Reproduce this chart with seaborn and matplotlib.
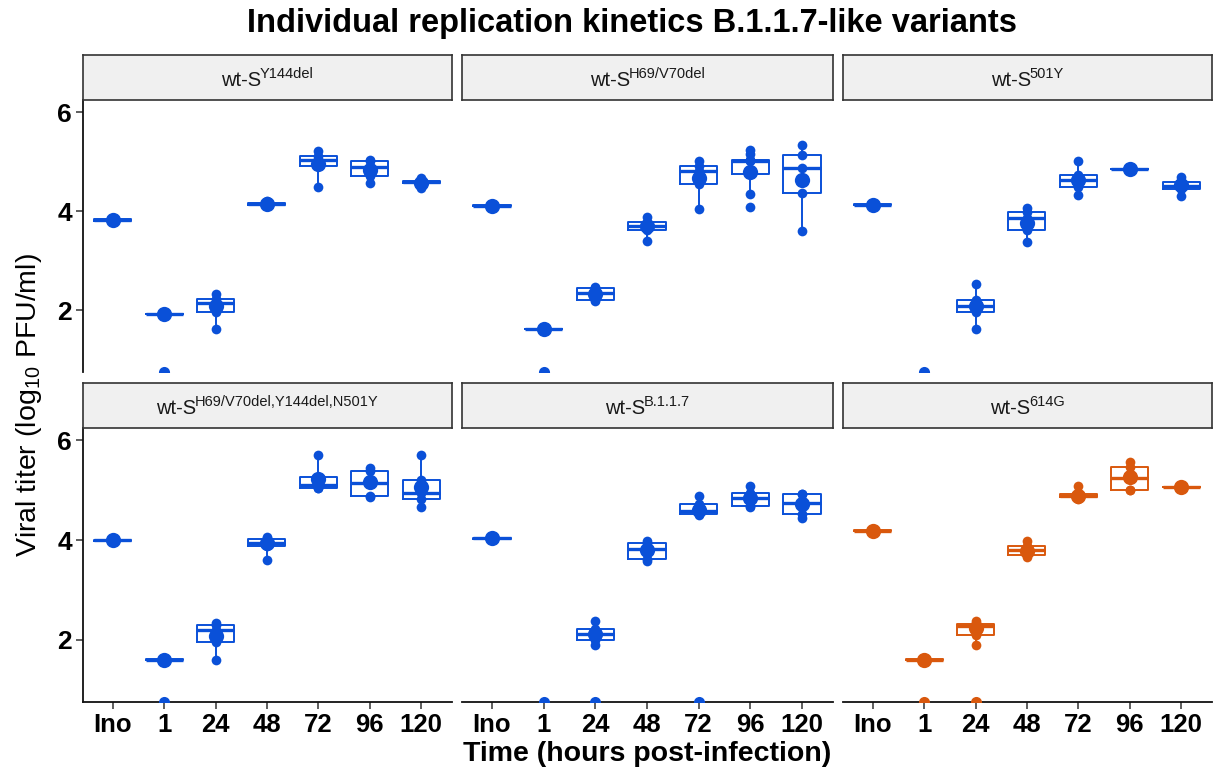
import numpy as np
import pandas as pd
import matplotlib
matplotlib.use("Agg")
import matplotlib.pyplot as plt
import seaborn as sns

TIMES = ["Ino", "1", "24", "48", "72", "96", "120"]
LOD_VALUE = 0.74

# --- wt-S Y144del
Y144DEL_REPS = [[3.79, 3.81, 3.83, 3.85, 3.87], [1.91, 1.92, 1.92, 1.92, 1.93],
                [1.61, 1.96, 2.15, 2.23, 2.32], [4.10, 4.13, 4.15, 4.17, 4.20],
                [4.50, 4.92, 5.04, 5.12, 5.21], [4.57, 4.71, 4.90, 5.01, 5.03],
                [4.47, 4.57, 4.59, 4.61, 4.68]]
Y144DEL_MEAN = [3.83, 1.92, 2.08, 4.14, 4.96, 4.84, 4.58]
Y144DEL_LOD = ["1"]

# --- wt-S H69/V70del
H69_REPS = [[4.09, 4.10, 4.11, 4.12, 4.13], [1.60, 1.61, 1.61, 1.62, 1.62],
            [2.19, 2.20, 2.35, 2.44, 2.47], [3.40, 3.62, 3.70, 3.78, 3.88],
            [4.05, 4.55, 4.81, 4.91, 5.02],
            [4.09, 4.34, 4.76, 4.80, 5.01, 5.03, 5.04, 5.15, 5.24],
            [3.61, 4.36, 4.87, 5.14, 5.33]]
H69_MEAN = [4.11, 1.61, 2.32, 3.70, 4.67, 4.79, 4.64]
H69_LOD = ["1"]

# --- wt-S 501Y
N501Y_REPS = [[4.11, 4.12, 4.13, 4.14, 4.15], [],
              [1.61, 1.96, 2.08, 2.20, 2.52], [3.38, 3.62, 3.87, 3.98, 4.07],
              [4.32, 4.50, 4.64, 4.74, 5.01], [4.84, 4.85, 4.85, 4.86, 4.87],
              [4.30, 4.46, 4.52, 4.59, 4.69]]
N501Y_MEAN = [4.13, np.nan, 2.08, 3.77, 4.64, 4.85, 4.53]
N501Y_LOD = ["1"]

# --- wt-S H69/V70del,Y144del,N501Y
TRIPLE_REPS = [[3.98, 3.99, 4.00, 4.01, 4.02], [1.59, 1.60, 1.60, 1.61, 1.61],
               [1.60, 1.95, 2.19, 2.29, 2.33], [3.60, 3.88, 3.95, 4.02, 4.06],
               [5.04, 5.05, 5.11, 5.26, 5.71], [4.86, 4.89, 5.14, 5.39, 5.44],
               [4.67, 4.82, 4.95, 5.21, 5.71]]
TRIPLE_MEAN = [4.00, 1.60, 2.07, 3.94, 5.23, 5.16, 5.07]
TRIPLE_LOD = ["1"]

# --- wt-S B.1.1.7
B117_REPS = [[4.02, 4.03, 4.04, 4.05, 4.06], [],
             [1.89, 2.00, 2.12, 2.22, 2.38], [3.58, 3.63, 3.82, 3.95, 3.98],
             [4.50, 4.52, 4.58, 4.72, 4.89], [4.67, 4.69, 4.85, 4.95, 5.09],
             [4.44, 4.52, 4.74, 4.92, 4.93]]
B117_MEAN = [4.04, np.nan, 2.12, 3.80, 4.61, 4.85, 4.72]
B117_LOD = ["1", "24", "72"]

# --- wt-S 614G
G614_REPS = [[4.17, 4.18, 4.19, 4.20, 4.21], [1.59, 1.60, 1.60, 1.61, 1.61],
             [1.89, 2.09, 2.27, 2.32, 2.38], [3.67, 3.70, 3.81, 3.88, 3.98],
             [4.83, 4.87, 4.89, 4.92, 5.08], [5.01, 5.01, 5.25, 5.47, 5.56],
             [5.05, 5.06, 5.06, 5.07, 5.08]]
G614_MEAN = [4.19, 1.60, 2.23, 3.78, 4.89, 5.27, 5.07]
G614_LOD = ["1", "24"]

PANEL_BASE = "wt-S"
PANEL_SUPS = ["Y144del", "H69/V70del", "501Y", "H69/V70del,Y144del,N501Y",
              "B.1.1.7", "614G"]
BLUE = "#0A50D8"
ORANGE = "#D9580D"

PANELS = [(Y144DEL_REPS, Y144DEL_MEAN, Y144DEL_LOD, BLUE),
          (H69_REPS, H69_MEAN, H69_LOD, BLUE),
          (N501Y_REPS, N501Y_MEAN, N501Y_LOD, BLUE),
          (TRIPLE_REPS, TRIPLE_MEAN, TRIPLE_LOD, BLUE),
          (B117_REPS, B117_MEAN, B117_LOD, BLUE),
          (G614_REPS, G614_MEAN, G614_LOD, ORANGE)]

sns.set_style("white")
plt.rcParams["font.family"] = ["Liberation Sans", "DejaVu Sans"]
plt.rcParams["mathtext.fontset"] = "custom"
plt.rcParams["mathtext.rm"] = "Liberation Sans"
plt.rcParams["text.color"] = "black"
plt.rcParams["xtick.color"] = "black"
plt.rcParams["ytick.color"] = "black"

W, H = 1214, 772
fig = plt.figure(figsize=(W / 100, H / 100), dpi=100)
renderer = fig.canvas.get_renderer()

col_x = [(83, 452), (462, 833), (843, 1212)]
row_y = [(100, 372), (428, 702)]
strip_y = [(55, 100), (383, 428)]


def fr(x0, y0, x1, y1):
    return [x0 / W, 1 - y1 / H, (x1 - x0) / W, (y1 - y0) / H]


for i, (reps, means, lod, color) in enumerate(PANELS):
    r, c = divmod(i, 3)
    x0, x1 = col_x[c]
    y0, y1 = row_y[r]
    ax = fig.add_axes(fr(x0, y0, x1, y1))
    df = pd.DataFrame([(t, v) for t, vals in zip(TIMES, reps) for v in vals],
                      columns=["time", "titer"])
    sns.boxplot(data=df, x="time", y="titer", order=TIMES, color=color, fill=False,
                width=0.72, whis=2.25, showfliers=False, showcaps=False,
                linewidth=1.4, medianprops=dict(linewidth=2.4), ax=ax)
    sns.stripplot(data=df, x="time", y="titer", order=TIMES, color=color,
                  jitter=False, size=7, ax=ax)
    mdf = pd.DataFrame({"time": TIMES, "titer": means}).dropna()
    sns.stripplot(data=mdf, x="time", y="titer", order=TIMES, color=color,
                  jitter=False, size=11, ax=ax)
    ldf = pd.DataFrame({"time": lod, "titer": [LOD_VALUE] * len(lod)})
    sns.stripplot(data=ldf, x="time", y="titer", order=TIMES, color=color,
                  jitter=False, size=8, ax=ax)
    ax.set_xlim(-0.58, 6.6)
    ax.set_ylim(0.75, 6.25)
    ax.set_yticks([2, 4, 6])
    ax.set_xlabel("")
    ax.set_ylabel("")
    for s in ["top", "right"]:
        ax.spines[s].set_visible(False)
    ax.spines["left"].set_visible(c == 0)
    ax.spines["bottom"].set_visible(r == 1)
    for s in ["left", "bottom"]:
        ax.spines[s].set_color("#111111")
        ax.spines[s].set_linewidth(1.3)
    ax.tick_params(axis="y", left=(c == 0), labelleft=(c == 0), length=5, width=1.1,
                   color="#333333", labelcolor="black", labelsize=19, pad=3)
    ax.tick_params(axis="x", bottom=(r == 1), labelbottom=(r == 1), length=5, width=1.1,
                   color="#333333", labelcolor="black", labelsize=18.5, pad=3)
    for lab in ax.get_yticklabels() + ax.get_xticklabels():
        lab.set_fontweight("bold")
    # strip
    sy0, sy1 = strip_y[r]
    sax = fig.add_axes(fr(x0, sy0, x1, sy1))
    sax.set_facecolor("#F0F0F0")
    sax.set_xticks([])
    sax.set_yticks([])
    for s in sax.spines.values():
        s.set_visible(True)
        s.set_color("#333333")
        s.set_linewidth(1.2)
    base = fig.text(0, 0, PANEL_BASE, fontsize=14.5, color="#1A1A1A",
                    ha="left", va="baseline")
    sup = fig.text(0, 0, PANEL_SUPS[i], fontsize=10.5, color="#1A1A1A",
                   ha="left", va="baseline")
    wb = base.get_window_extent(renderer).width
    ws = sup.get_window_extent(renderer).width
    total = wb + ws - 1.5
    cx = (x0 + x1) / 2
    start = cx - total / 2
    baseline_y = sy0 + (sy1 - sy0) * 0.70
    base.set_position((start / W, 1 - baseline_y / H))
    sup.set_position(((start + wb - 1.5) / W, 1 - (baseline_y - 9) / H))

fig.text(0.521, 0.969, "Individual replication kinetics B.1.1.7-like variants",
         ha="center", va="center", fontsize=23.5, fontweight="bold")
fig.text(0.533, 0.023, "Time (hours post-infection)", ha="center", va="center",
         fontsize=20.5, fontweight="bold")
fig.text(0.024, 0.475, r"Viral titer (log$_{\mathregular{10}}$ PFU/ml)", ha="center",
         va="center", rotation=90, fontsize=20.5)

fig.savefig("out.png", dpi=100)
